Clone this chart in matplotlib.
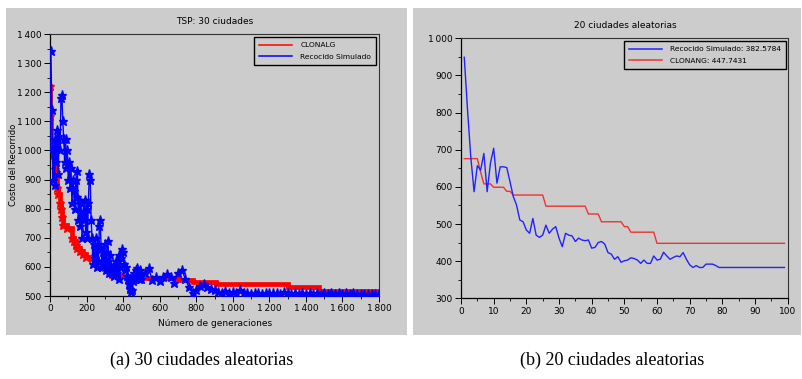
import numpy as np
import matplotlib
matplotlib.use("Agg")
import matplotlib.pyplot as plt
from matplotlib.patches import Rectangle
from matplotlib.ticker import FuncFormatter, MultipleLocator

# ---------------- data: (a) 30 ciudades ----------------
blue_a_gen_early = np.arange(0, 500, 5)
blue_a_cost_early = [
    1000, 1340, 1140, 900, 1010, 880, 1040, 960, 1070, 920,
    1050, 1000, 1180, 1190, 1100, 1040, 960, 1040, 940, 1000,
    900, 960, 870, 940, 820, 900, 860, 800, 900, 840,
    930, 760, 830, 740, 820, 700, 790, 760, 830, 720,
    800, 700, 820, 920, 900, 760, 700, 610, 680, 630,
    700, 600, 680, 620, 740, 760, 660, 600, 650, 610,
    680, 590, 650, 690, 620, 580, 640, 600, 580, 600,
    570, 590, 620, 580, 620, 640, 560, 600, 630, 660,
    650, 610, 590, 600, 570, 560, 540, 560, 525, 515,
    520, 550, 580, 560, 590, 595, 580, 560, 590, 570,
]
blue_a_gen_late = np.arange(500, 1801, 20)
blue_a_cost_late = [
    560, 580, 595, 555, 565, 550, 565, 575, 565, 545,
    580, 590, 560, 530, 512, 520, 535, 540, 530, 525,
    520, 515, 510, 518, 512, 515, 510, 520, 512, 510,
    508, 512, 510, 508, 512, 510, 512, 510, 508, 515,
    510, 508, 510, 508, 512, 508, 510, 508, 510, 508,
    510, 508, 509, 508, 510, 508, 509, 508, 509, 508,
    508, 508, 508, 508, 508, 508,
]
red_a_gen = [0, 1, 3, 18, 25, 32, 38, 45, 52, 60, 66, 72, 95, 120, 130, 140,
             150, 165, 180, 195, 230, 250, 290, 300, 335, 450, 700, 780, 910,
             1300, 1470, 1800]
red_a_cost = [1220, 1117, 1025, 985, 935, 925, 870, 850, 820, 800, 770, 745,
              735, 700, 690, 675, 665, 655, 645, 635, 630, 620, 610, 600, 568,
              562, 555, 548, 540, 530, 518, 518]

# ---------------- data: (b) 20 ciudades ----------------
iter_b = np.arange(1, 100)
blue_b = [
    949, 807, 680, 587, 657, 645, 690, 587, 663, 704,
    610, 654, 654, 652, 614, 574, 551, 511, 506, 484,
    475, 515, 470, 464, 470, 497, 475, 486, 493, 462,
    439, 475, 470, 468, 453, 462, 457, 455, 457, 435,
    437, 450, 453, 446, 423, 419, 405, 412, 397, 401,
    403, 409, 407, 403, 394, 403, 394, 394, 414, 403,
    405, 424, 414, 405, 410, 414, 412, 423, 405, 390,
    383, 388, 383, 383, 392, 392, 392, 388, 383, 383,
    383, 383, 383, 383, 383, 383, 383, 383, 383, 383,
    383, 383, 383, 383, 383, 383, 383, 383, 383,
]
red_b_iter = [1, 5, 6, 7, 9, 10, 13, 14, 15, 16, 25, 26, 38, 39, 42, 43, 49,
              50, 51, 52, 59, 60, 99]
red_b = [676, 676, 640, 608, 608, 599, 599, 588, 588, 578, 578, 548, 548,
         527, 527, 506, 506, 493, 493, 478, 478, 448, 448]

BG = "#cccccc"
W, H = 802, 379

fig = plt.figure(figsize=(W / 100, H / 100), dpi=100, facecolor="white")

# grey panels (behind axes)
for (px, pw) in [(6, 401), (413, 388)]:
    r = Rectangle((px / W, 1 - 335 / H), pw / W, 327 / H,
                  transform=fig.transFigure, facecolor=BG,
                  edgecolor="none", zorder=-10)
    fig.add_artist(r)


def thousands(v, pos):
    v = int(round(v))
    if v >= 1000:
        return f"{v // 1000}\u2009{v % 1000:03d}"
    return str(v)


def style_axes(ax):
    ax.set_facecolor(BG)
    for s in ["left", "bottom"]:
        ax.spines[s].set_color("black")
        ax.spines[s].set_linewidth(0.9)
    for s in ["top", "right"]:
        ax.spines[s].set_color("#333333")
        ax.spines[s].set_linewidth(0.8)
    ax.tick_params(which="major", direction="out", length=4, width=0.7,
                   labelsize=6.5, colors="black", pad=2)
    ax.tick_params(which="minor", direction="out", length=2, width=0.6)
    ax.xaxis.set_major_formatter(FuncFormatter(thousands))
    ax.yaxis.set_major_formatter(FuncFormatter(thousands))


def make_legend(ax, colors, labels, anchor):
    leg = ax.legend(handles=[plt.Line2D([], [], color=c, lw=1.1) for c in colors],
                    labels=labels, loc="upper right", bbox_to_anchor=anchor,
                    borderaxespad=0, fontsize=5.4, frameon=True, fancybox=False,
                    edgecolor="black", facecolor=BG, framealpha=1,
                    handlelength=4.4, handletextpad=1.1, borderpad=0.65,
                    labelspacing=0.75)
    leg.get_frame().set_linewidth(1.0)
    return leg


# ---------------- left axes ----------------
axL = fig.add_axes([50 / W, 1 - 296 / H, 329 / W, 262 / H])
style_axes(axL)
axL.plot(red_a_gen, red_a_cost, color="#ff0000", lw=3.4, drawstyle="steps-post",
         solid_joinstyle="miter", zorder=2)
axL.plot(red_a_gen[:24], red_a_cost[:24], ls="none", marker="*", ms=6.5,
         color="#ff0000", zorder=2)
blue_gen = np.concatenate([blue_a_gen_early, blue_a_gen_late])
blue_cost = np.array(blue_a_cost_early + blue_a_cost_late)
axL.plot(blue_gen, blue_cost, color="#0000ff", lw=1.0, marker="*", ms=6.8,
         zorder=3)
axL.set_xlim(0, 1800)
axL.set_ylim(500, 1400)
axL.xaxis.set_major_locator(MultipleLocator(200))
axL.xaxis.set_minor_locator(MultipleLocator(100))
axL.yaxis.set_major_locator(MultipleLocator(100))
axL.yaxis.set_minor_locator(MultipleLocator(50))
make_legend(axL, ["#ff0000", "#0000ff"], ["CLONALG", "Recocido Simulado"],
            (0.991, 0.9885))

fig.text(215 / W, 1 - 21 / H, "TSP: 30 ciudades", ha="center", va="center",
         fontsize=6.5)
fig.text(14 / W, 1 - 165 / H, "Costo del Recorrido", ha="center", va="center",
         rotation=90, fontsize=6)
fig.text(215 / W, 1 - 323 / H, "Número de generaciones", ha="center",
         va="center", fontsize=6.5)

# ---------------- right axes ----------------
axR = fig.add_axes([461 / W, 1 - 298.3 / H, 326.7 / W, 260 / H])
style_axes(axR)
axR.plot(iter_b, blue_b, color="#2222ff", lw=1.0, zorder=3)
axR.plot(red_b_iter, red_b, color="#ee3333", lw=1.0, zorder=2)
axR.set_xlim(0, 100)
axR.set_ylim(300, 1000)
axR.xaxis.set_major_locator(MultipleLocator(10))
axR.xaxis.set_minor_locator(MultipleLocator(5))
axR.yaxis.set_major_locator(MultipleLocator(100))
axR.yaxis.set_minor_locator(MultipleLocator(50))
make_legend(axR, ["#2222ff", "#ee3333"],
            ["Recocido Simulado: 382.5784", "CLONANG: 447.7431"],
            (0.9948, 0.9896))

fig.text(625 / W, 1 - 25.5 / H, "20 ciudades aleatorias", ha="center",
         va="center", fontsize=6.5)

# ---------------- captions ----------------
fig.text(202 / W, 1 - 360 / H, "(a) 30 ciudades aleatorias", ha="center",
         va="center", fontsize=13, family="Liberation Serif")
fig.text(612 / W, 1 - 360 / H, "(b) 20 ciudades aleatorias", ha="center",
         va="center", fontsize=13, family="Liberation Serif")

fig.savefig("out.png", dpi=100, facecolor="white")
